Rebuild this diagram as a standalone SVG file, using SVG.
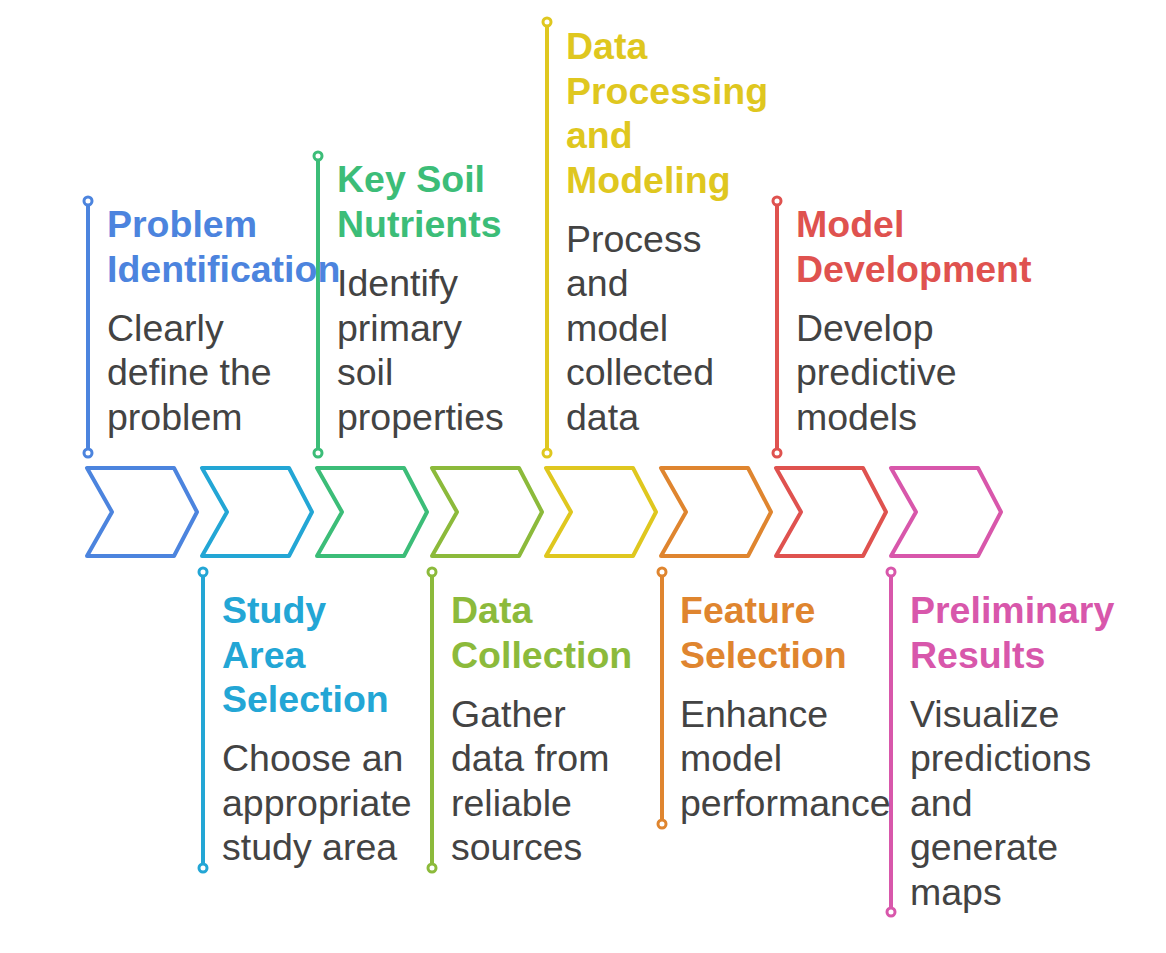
<svg xmlns="http://www.w3.org/2000/svg" width="1166" height="953" viewBox="0 0 1166 953">
<style>
text{font-family:"Liberation Sans",Arial,sans-serif;font-size:37.5px}
.t{font-weight:bold}
.b{fill:#434343}
.chev{fill:none;stroke-width:4;stroke-linejoin:round}
.ln{stroke-width:4;fill:none}
.dot{fill:#fff;stroke-width:3}
.c1{stroke:#4C84DE}.f1{fill:#4C84DE}
.c2{stroke:#23A6D5}.f2{fill:#23A6D5}
.c3{stroke:#3CBD78}.f3{fill:#3CBD78}
.c4{stroke:#8CBA3B}.f4{fill:#8CBA3B}
.c5{stroke:#DFC71F}.f5{fill:#DFC71F}
.c6{stroke:#DF852F}.f6{fill:#DF852F}
.c7{stroke:#DF524F}.f7{fill:#DF524F}
.c8{stroke:#D857AB}.f8{fill:#D857AB}
</style>
<rect width="1166" height="953" fill="#fff"/>
<g id="connectors">
<line class="ln c1" x1="88" y1="201" x2="88" y2="453"/><circle class="dot c1" cx="88" cy="201" r="4"/><circle class="dot c1" cx="88" cy="453" r="4"/>
<line class="ln c2" x1="203" y1="572" x2="203" y2="868"/><circle class="dot c2" cx="203" cy="572" r="4"/><circle class="dot c2" cx="203" cy="868" r="4"/>
<line class="ln c3" x1="318" y1="156" x2="318" y2="453"/><circle class="dot c3" cx="318" cy="156" r="4"/><circle class="dot c3" cx="318" cy="453" r="4"/>
<line class="ln c4" x1="432" y1="572" x2="432" y2="868"/><circle class="dot c4" cx="432" cy="572" r="4"/><circle class="dot c4" cx="432" cy="868" r="4"/>
<line class="ln c5" x1="547" y1="22" x2="547" y2="453"/><circle class="dot c5" cx="547" cy="22" r="4"/><circle class="dot c5" cx="547" cy="453" r="4"/>
<line class="ln c6" x1="662" y1="572" x2="662" y2="824"/><circle class="dot c6" cx="662" cy="572" r="4"/><circle class="dot c6" cx="662" cy="824" r="4"/>
<line class="ln c7" x1="777" y1="201" x2="777" y2="453"/><circle class="dot c7" cx="777" cy="201" r="4"/><circle class="dot c7" cx="777" cy="453" r="4"/>
<line class="ln c8" x1="891" y1="572" x2="891" y2="912"/><circle class="dot c8" cx="891" cy="572" r="4"/><circle class="dot c8" cx="891" cy="912" r="4"/>
</g>
<g id="step1">
<path class="chev c1" d="M87 468H174L197 512L174 556H87L112 512Z"/>
<text class="t f1"><tspan x="107" y="237">Problem</tspan><tspan x="107" y="281.5">Identification</tspan></text>
<text class="b"><tspan x="107" y="340.5">Clearly</tspan><tspan x="107" y="385">define the</tspan><tspan x="107" y="429.5">problem</tspan></text>
</g>
<g id="step2">
<path class="chev c2" d="M202 468H289L312 512L289 556H202L227 512Z"/>
<text class="t f2"><tspan x="222" y="623">Study</tspan><tspan x="222" y="667.5">Area</tspan><tspan x="222" y="712">Selection</tspan></text>
<text class="b"><tspan x="222" y="771">Choose an</tspan><tspan x="222" y="815.5">appropriate</tspan><tspan x="222" y="860">study area</tspan></text>
</g>
<g id="step3">
<path class="chev c3" d="M317 468H404L427 512L404 556H317L342 512Z"/>
<text class="t f3"><tspan x="337" y="192">Key Soil</tspan><tspan x="337" y="236.5">Nutrients</tspan></text>
<text class="b"><tspan x="337" y="296">Identify</tspan><tspan x="337" y="340.5">primary</tspan><tspan x="337" y="385">soil</tspan><tspan x="337" y="429.5">properties</tspan></text>
</g>
<g id="step4">
<path class="chev c4" d="M432 468H519L542 512L519 556H432L457 512Z"/>
<text class="t f4"><tspan x="451" y="623">Data</tspan><tspan x="451" y="667.5">Collection</tspan></text>
<text class="b"><tspan x="451" y="726.5">Gather</tspan><tspan x="451" y="771">data from</tspan><tspan x="451" y="815.5">reliable</tspan><tspan x="451" y="860">sources</tspan></text>
</g>
<g id="step5">
<path class="chev c5" d="M546 468H633L656 512L633 556H546L571 512Z"/>
<text class="t f5"><tspan x="566" y="59">Data</tspan><tspan x="566" y="103.5">Processing</tspan><tspan x="566" y="148">and</tspan><tspan x="566" y="192.5">Modeling</tspan></text>
<text class="b"><tspan x="566" y="251.5">Process</tspan><tspan x="566" y="296">and</tspan><tspan x="566" y="340.5">model</tspan><tspan x="566" y="385">collected</tspan><tspan x="566" y="429.5">data</tspan></text>
</g>
<g id="step6">
<path class="chev c6" d="M661 468H748L771 512L748 556H661L686 512Z"/>
<text class="t f6"><tspan x="680" y="623">Feature</tspan><tspan x="680" y="667.5">Selection</tspan></text>
<text class="b"><tspan x="680" y="726.5">Enhance</tspan><tspan x="680" y="771">model</tspan><tspan x="680" y="815.5">performance</tspan></text>
</g>
<g id="step7">
<path class="chev c7" d="M776 468H863L886 512L863 556H776L801 512Z"/>
<text class="t f7"><tspan x="796" y="237">Model</tspan><tspan x="796" y="281.5">Development</tspan></text>
<text class="b"><tspan x="796" y="340.5">Develop</tspan><tspan x="796" y="385">predictive</tspan><tspan x="796" y="429.5">models</tspan></text>
</g>
<g id="step8">
<path class="chev c8" d="M891 468H978L1001 512L978 556H891L916 512Z"/>
<text class="t f8"><tspan x="910" y="623">Preliminary</tspan><tspan x="910" y="667.5">Results</tspan></text>
<text class="b"><tspan x="910" y="726.5">Visualize</tspan><tspan x="910" y="771">predictions</tspan><tspan x="910" y="815.5">and</tspan><tspan x="910" y="860">generate</tspan><tspan x="910" y="904.5">maps</tspan></text>
</g>
</svg>
